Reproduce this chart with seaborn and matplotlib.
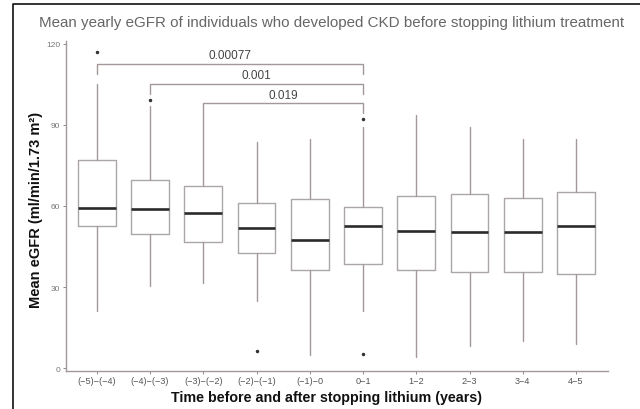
import numpy as np
import matplotlib
matplotlib.use("Agg")
import matplotlib.pyplot as plt
import seaborn as sns
from matplotlib.lines import Line2D

sns.set_theme(style="white")
plt.rcParams['font.family'] = ['Liberation Sans', 'DejaVu Sans']

# Valeurs (eGFR moyen, ml/min/1.73 m²)
periodes = ["(−5)−(−4)", "(−4)−(−3)", "(−3)−(−2)", "(−2)−(−1)", "(−1)−0",
            "0−1", "1−2", "2−3", "3−4", "4−5"]
whisker_bas = [21.3, 30.5, 31.5, 24.9, 4.8, 21.2, 4.3, 8.3, 10.2, 9.0]
q1 = [52.4, 49.6, 46.8, 42.6, 36.4, 38.5, 36.3, 35.4, 35.4, 34.8]
mediane = [59.3, 58.9, 57.3, 51.9, 47.5, 52.6, 50.6, 50.2, 50.2, 52.5]
q3 = [77.0, 69.4, 67.5, 61.0, 62.6, 59.7, 63.6, 64.2, 63.0, 65.2]
whisker_haut = [105.0, 97.0, 94.5, 83.6, 84.8, 89.0, 93.7, 89.1, 84.8, 84.8]
outliers = [[117.0], [99.0], [], [6.4], [], [92.0, 5.2], [], [], [], []]

# Comparaisons (groupe a, groupe b, p-value, hauteur)
comparaisons = [(0, 5, "0.00077", 112.6), (1, 5, "0.001", 105.2), (2, 5, "0.019", 98.1)]

couleur_boite = "#aca6a6"
couleur_moustache = "#a39898"

stats = []
for i in range(len(periodes)):
    stats.append({
        "whislo": whisker_bas[i], "q1": q1[i], "med": mediane[i],
        "q3": q3[i], "whishi": whisker_haut[i], "fliers": outliers[i],
    })

fig = plt.figure(figsize=(6.4, 4.1), dpi=100)
ax = fig.add_axes([0.103, 0.093, 0.847, 0.805])

ax.bxp(stats, positions=np.arange(len(periodes)), widths=0.71, showcaps=False,
       boxprops=dict(color=couleur_boite, linewidth=1.0),
       whiskerprops=dict(color=couleur_moustache, linewidth=1.0),
       medianprops=dict(color="#2b2b2b", linewidth=1.9),
       flierprops=dict(marker=".", markersize=3, markerfacecolor="#333333",
                       markeredgecolor="#333333"))

ax.set_xlim(-0.58, 9.6)
ax.set_ylim(-1, 121)
ax.set_yticks([0, 30, 60, 90, 120])
ax.set_xticks(np.arange(len(periodes)))
ax.set_xticklabels(periodes)
ax.tick_params(axis="y", labelsize=6, colors="#777777", length=2, width=0.6,
               left=True, pad=2)
ax.tick_params(axis="x", labelsize=6.6, colors="#777777", labelcolor="#555555",
               length=2, width=0.6, bottom=True, pad=2)

sns.despine(ax=ax)
for side in ["left", "bottom"]:
    ax.spines[side].set_color(couleur_moustache)
    ax.spines[side].set_linewidth(1.0)

# Crochets de significativité
for a, b, texte, h in comparaisons:
    ax.plot([a, a, b, b], [h - 3.7, h, h, h - 3.7], color=couleur_moustache, linewidth=1.0)
    ax.text((a + b) / 2, h + 0.8, texte, ha="center", va="bottom", fontsize=8.5, color="#444444")

ax.set_xlabel("Time before and after stopping lithium (years)", fontsize=10.3,
              fontweight="bold", color="#111111")
ax.xaxis.set_label_coords(0.48, -0.058, transform=ax.transAxes)
ax.xaxis.label.set_va("top")
ax.set_ylabel("Mean eGFR (ml/min/1.73 m²)", fontsize=10.5, fontweight="bold",
              color="#111111")
ax.yaxis.set_label_coords(-0.042, 0.49)

fig.text(0.518, 0.945, "Mean yearly eGFR of individuals who developed CKD before stopping lithium treatment",
         ha="center", va="center", fontsize=10.9, color="#666666")

# Cadre noir (bords gauche et haut)
fig.add_artist(Line2D([12.5 / 640, 12.5 / 640, 1.0], [0.0, 1 - 5 / 410, 1 - 5 / 410],
                      color="#111111", linewidth=1.2, transform=fig.transFigure))

fig.savefig("out.png", dpi=100, facecolor="white")
